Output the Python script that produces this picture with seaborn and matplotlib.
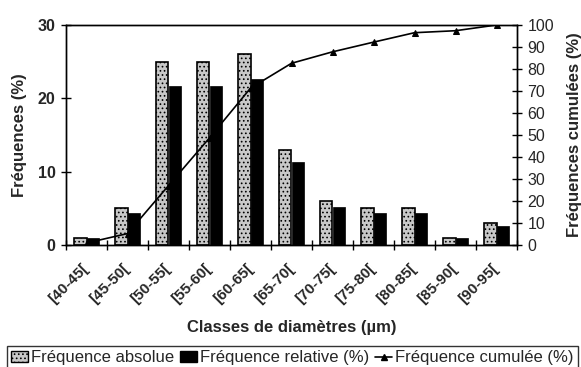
import matplotlib
matplotlib.use("Agg")
import matplotlib.pyplot as plt
from matplotlib.patches import Patch
from matplotlib.lines import Line2D
from matplotlib.ticker import FixedLocator, NullFormatter
import seaborn as sns
import pandas as pd
import numpy as np

# Diameter classes and frequencies
classes = ["[40-45[", "[45-50[", "[50-55[", "[55-60[", "[60-65[", "[65-70[",
           "[70-75[", "[75-80[", "[80-85[", "[85-90[", "[90-95["]
freq_abs = [1, 5, 25, 25, 26, 13, 6, 5, 5, 1, 3]
freq_rel = [0.9, 4.3, 21.7, 21.7, 22.6, 11.3, 5.2, 4.3, 4.3, 0.9, 2.6]
freq_cum = [0.9, 5.2, 27.0, 48.7, 71.3, 82.6, 87.8, 92.2, 96.5, 97.4, 100.0]

lab_abs = "Fréquence absolue"
lab_rel = "Fréquence relative (%)"
lab_cum = "Fréquence cumulée (%)"

sns.set_style("white")
plt.rcParams["font.family"] = ["Liberation Sans", "DejaVu Sans"]
plt.rcParams["hatch.linewidth"] = 0.7

df = pd.DataFrame({
    "classe": classes * 2,
    "valeur": freq_abs + freq_rel,
    "serie": [lab_abs] * len(classes) + [lab_rel] * len(classes),
})

fig = plt.figure(figsize=(5.81, 3.67), dpi=100)
ax = fig.add_axes([66 / 581, 1 - 245 / 367, (517 - 66) / 581, (245 - 25) / 367])

sns.barplot(data=df, x="classe", y="valeur", hue="serie", order=classes,
            hue_order=[lab_abs, lab_rel], width=0.6, dodge=True,
            palette=["#c8c8c8", "black"], legend=False, ax=ax, saturation=1)

n = len(classes)
for i, p in enumerate(ax.patches[:2 * n]):
    p.set_edgecolor("black")
    if i < n:
        p.set_linewidth(1.2)
        p.set_hatch("....")
    else:
        p.set_linewidth(0.5)

ax.set_xlim(-0.5, n - 0.5)
ax.set_ylim(0, 30)
ax.set_yticks([0, 10, 20, 30])
ax.set_xticks(range(n))
ax.set_xticklabels(classes, rotation=45, ha="right", va="center",
                   rotation_mode="anchor", fontsize=11, fontweight="bold")
ax.tick_params(axis="x", which="major", length=0, pad=15)
ax.xaxis.set_minor_locator(FixedLocator(np.arange(-0.5, n, 1.0)))
ax.xaxis.set_minor_formatter(NullFormatter())
ax.tick_params(axis="x", which="minor", direction="inout", length=7,
               width=1, color="black", bottom=True)
ax.tick_params(axis="y", direction="inout", length=7, width=1, color="black",
               labelsize=11.5, pad=4)
for t in ax.get_yticklabels():
    t.set_fontweight("bold")

ax.set_xlabel("Classes de diamètres (µm)", fontsize=12, fontweight="bold",
              labelpad=10)
ax.set_ylabel("Fréquences (%)", fontsize=12, fontweight="bold", labelpad=8)

for s in ax.spines.values():
    s.set_color("black")
    s.set_linewidth(1.0)

# Cumulative frequency on the secondary axis
ax2 = ax.twinx()
sns.lineplot(x=np.arange(n), y=freq_cum, ax=ax2, color="black", linewidth=1.2,
             marker="^", markersize=5, markeredgecolor="black")
ax2.set_ylim(0, 100)
ax2.set_yticks(range(0, 101, 10))
ax2.tick_params(axis="y", direction="inout", length=7, width=1, color="black",
                labelsize=11.5, pad=4)
ax2.set_ylabel("Fréquences cumulées (%)", fontsize=12, fontweight="bold",
               labelpad=9)
for s in ax2.spines.values():
    s.set_color("black")
    s.set_linewidth(1.0)

handles = [
    Patch(facecolor="#c8c8c8", edgecolor="black", hatch="....", linewidth=1.0),
    Patch(facecolor="black", edgecolor="black"),
    Line2D([0], [0], color="black", marker="^", markersize=5, linewidth=1.2),
]
leg = fig.legend(handles, [lab_abs, lab_rel, lab_cum], loc="upper left",
                 bbox_to_anchor=(7 / 581, 1 - 346 / 367), ncol=3, frameon=True,
                 fancybox=False, edgecolor="black", fontsize=12,
                 handlelength=1.0, handleheight=0.6, handletextpad=0.2,
                 columnspacing=0.35, borderpad=0.25, borderaxespad=0)
leg.get_frame().set_linewidth(1.0)

fig.savefig("out.png", dpi=100)
